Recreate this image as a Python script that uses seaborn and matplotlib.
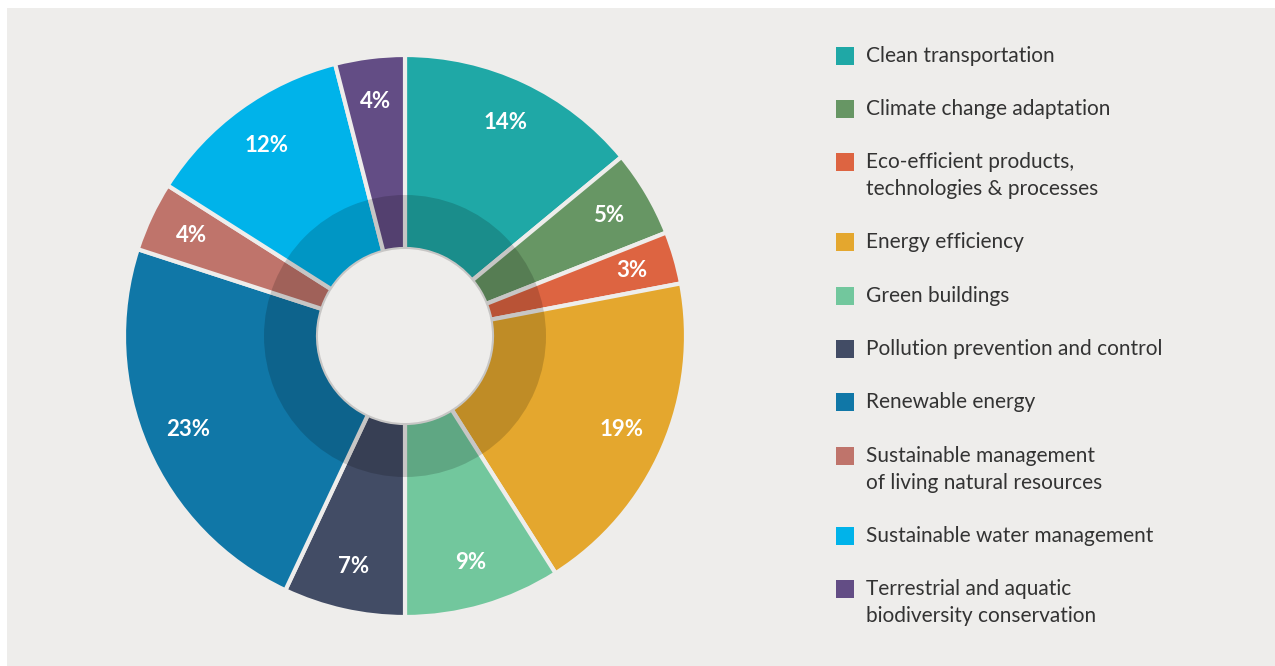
import numpy as np
import matplotlib
matplotlib.use('agg')
import matplotlib.pyplot as plt
import seaborn as sns
from matplotlib.patches import Rectangle, Wedge

# --- data

categories = ["Clean transportation",
              "Climate change adaptation",
              "Eco-efficient products,\ntechnologies & processes",
              "Energy efficiency",
              "Green buildings",
              "Pollution prevention and control",
              "Renewable energy",
              "Sustainable management\nof living natural resources",
              "Sustainable water management",
              "Terrestrial and aquatic\nbiodiversity conservation"]
shares = [14, 5, 3, 19, 9, 7, 23, 4, 12, 4]
colors = ["#1fa8a6", "#679664", "#dd6441", "#e4a72e", "#72c79d",
          "#424c65", "#1077a7", "#bf746b", "#00b3ea", "#634d85"]

bg = "#eeedeb"

sns.set_theme(style="white")
plt.rcParams['font.family'] = ['Lato', 'DejaVu Sans']

W, H = 1275, 666
fig = plt.figure(figsize=(W / 100, H / 100), dpi=100, facecolor="white")

# grey panel behind everything
bgax = fig.add_axes([7 / W, 0, 1 - 7 / W, (H - 8) / H], zorder=-5)
bgax.set_facecolor(bg)
bgax.axis("off")
bgax.add_patch(Rectangle((0, 0), 1, 1, transform=bgax.transAxes,
                         facecolor=bg, edgecolor="none"))

# pie axes, centre at (405, 336) px, outer radius ~280 px
cx, cy, half = 405, 336, 300
ax = fig.add_axes([(cx - half) / W, (H - cy - half) / H, 2 * half / W, 2 * half / H])
ax.set_facecolor("none")
R = 281.0
r_hole = 87.0
r_ring = 141.0

wedges, texts = ax.pie(shares, colors=colors, startangle=90, counterclock=False,
                       radius=1.0,
                       wedgeprops=dict(width=1 - r_hole / R, edgecolor=bg, linewidth=3))

# darker inner ring
ax.add_patch(Wedge((0, 0), r_ring / R, 0, 360, width=(r_ring - r_hole) / R,
                   facecolor="black", alpha=0.16, edgecolor="none", zorder=5))

# percentage labels
cum = np.cumsum([0] + shares[:-1])
for s, c in zip(shares, cum):
    ang = np.deg2rad(90 - 3.6 * (c + s / 2))
    ax.text(0.84 * np.cos(ang), 0.84 * np.sin(ang), f"{s}%", color="white",
            fontsize=16, fontweight="bold", ha="center", va="center", zorder=6)

ax.set_xlim(-half / R, half / R)
ax.set_ylim(-half / R, half / R)
ax.set_aspect("equal")
ax.axis("off")

# legend
y = 55.5
for lab, col in zip(categories, colors):
    fig.patches.append(Rectangle((836 / W, (H - y - 9) / H), 18 / W, 18 / H,
                                 transform=fig.transFigure, facecolor=col,
                                 edgecolor="none", zorder=2))
    lines = lab.split("\n")
    for i, ln in enumerate(lines):
        fig.text(866 / W, (H - y - 27 * i) / H, ln, fontsize=15, color="#333333",
                 ha="left", va="center")
    y += 53.3 + 27 * (len(lines) - 1)

plt.savefig("out.png", dpi=100, facecolor=fig.get_facecolor())
print('Info:   ', 'Normal termination')
